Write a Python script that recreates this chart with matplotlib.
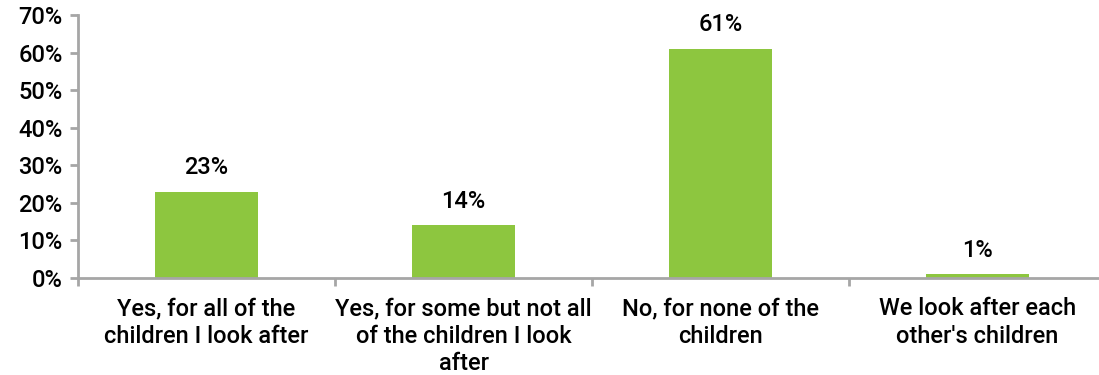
import matplotlib.pyplot as plt
from matplotlib.ticker import FixedLocator, NullFormatter

categories = [
    "Yes, for all of the\nchildren I look after",
    "Yes, for some but not all\nof the children I look\nafter",
    "No, for none of the\nchildren",
    "We look after each\nother's children",
]
values = [23, 14, 61, 1]
y_ticks = [0, 10, 20, 30, 40, 50, 60, 70]

plt.rcParams["font.family"] = ["Roboto", "DejaVu Sans"]
axis_grey = "#a6a6a6"
green = "#8dc63f"
fs = 17

fig = plt.figure(figsize=(10.99, 3.75), dpi=100)
ax = fig.add_axes([78 / 1099, 97 / 375, 1028 / 1099, 263 / 375])

x = range(len(values))
ax.bar(x, values, width=0.4, color=green, zorder=2)

for xi, v in zip(x, values):
    ax.annotate(f"{v}%", (xi, v), xytext=(0, 9), textcoords="offset points",
                ha="center", va="bottom", fontsize=fs, fontweight="medium")

ax.set_xlim(-0.5, len(values) - 0.5)
ax.set_ylim(0, 70)
ax.set_yticks(y_ticks)
ax.set_yticklabels([f"{t}%" for t in y_ticks], fontsize=fs, fontweight="medium")

# category labels sit between boundary ticks
ax.xaxis.set_major_locator(FixedLocator([i - 0.5 for i in range(len(values) + 1)]))
ax.xaxis.set_major_formatter(NullFormatter())
ax.set_xticks(list(x), minor=True)
ax.set_xticklabels(categories, minor=True, fontsize=fs, fontweight="medium",
                   linespacing=1.25, va="top")
ax.tick_params(axis="x", which="minor", length=0, pad=14)
ax.tick_params(axis="x", which="major", length=6, width=2, color=axis_grey)
ax.tick_params(axis="y", length=6, width=2, color=axis_grey, pad=5)

for side in ["top", "right"]:
    ax.spines[side].set_visible(False)
for side in ["left", "bottom"]:
    ax.spines[side].set_color(axis_grey)
    ax.spines[side].set_linewidth(2)

fig.savefig("out.png", dpi=100)
